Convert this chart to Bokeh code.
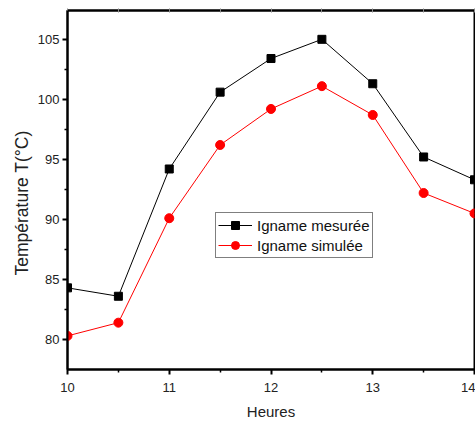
from bokeh.plotting import figure
from bokeh.models import LinearAxis, Legend, LegendItem, FixedTicker, Range1d, Title
from bokeh.embed import file_html
from bokeh.resources import INLINE

hours = [10, 10.5, 11, 11.5, 12, 12.5, 13, 13.5, 14]
measured = [84.3, 83.6, 94.2, 100.6, 103.4, 105.0, 101.3, 95.2, 93.3]
simulated = [80.3, 81.4, 90.1, 96.2, 99.2, 101.1, 98.7, 92.2, 90.5]
x_ticks = [10, 11, 12, 13, 14]
x_minor = [10.5, 11.5, 12.5, 13.5]
y_ticks = [80, 85, 90, 95, 100, 105]
y_minor = [82.5, 87.5, 92.5, 97.5, 102.5]

FONT = "Liberation Sans"

p = figure(width=475, height=422, x_range=Range1d(10, 14), y_range=Range1d(77.5, 107.4),
           output_backend="svg", toolbar_location=None,
           min_border_left=67, min_border_right=1, min_border_top=10, min_border_bottom=53)
p.grid.visible = False
p.outline_line_color = "black"
p.outline_line_width = 2
p.background_fill_color = "white"
p.border_fill_color = "white"

for ax in (p.xaxis[0], p.yaxis[0]):
    ax.axis_line_width = 2
    ax.major_tick_line_width = 2
    ax.minor_tick_line_width = 1.5
    ax.major_tick_out = 5
    ax.major_tick_in = 0
    ax.minor_tick_out = 3
    ax.minor_tick_in = 0
    ax.major_label_text_font = FONT
    ax.major_label_text_font_size = "13px"
    ax.major_label_text_color = "#222222"
    ax.axis_label_text_font = FONT
    ax.axis_label_text_font_style = "normal"
    ax.axis_label_text_color = "#222222"

p.xaxis[0].ticker = FixedTicker(ticks=x_ticks, minor_ticks=x_minor)
p.yaxis[0].ticker = FixedTicker(ticks=y_ticks, minor_ticks=y_minor)
p.xaxis[0].axis_label = "Heures"
p.xaxis[0].axis_label_text_font_size = "15px"
p.xaxis[0].major_label_standoff = 8
p.xaxis[0].axis_label_standoff = 8
p.yaxis[0].major_label_standoff = 3

ylabel = Title(text="Température T(°C)", align="left", offset=94,
               text_font=FONT, text_font_size="17.5px", text_font_style="normal",
               text_color="#222222", standoff=6)
p.add_layout(ylabel, "left")

top = LinearAxis(ticker=FixedTicker(ticks=[], minor_ticks=x_ticks + x_minor))
top.axis_line_width = 2
top.minor_tick_out = 2
top.minor_tick_in = 2
top.minor_tick_line_color = "#888888"
top.minor_tick_line_width = 1
top.major_label_standoff = 0
p.add_layout(top, "above")

l1 = p.line(hours, measured, line_color="black", line_width=1)
s1 = p.scatter(hours, measured, marker="square", size=8, fill_color="black", line_color="black")
l2 = p.line(hours, simulated, line_color="red", line_width=1)
s2 = p.scatter(hours, simulated, marker="circle", size=9, fill_color="red", line_color="red")

legend = Legend(items=[LegendItem(label="Igname mesurée", renderers=[l1, s1]),
                       LegendItem(label="Igname simulée", renderers=[l2, s2])],
                location=(148, 111))
legend.border_line_color = "black"
legend.border_line_width = 1
legend.label_text_font = FONT
legend.label_text_font_size = "15px"
legend.label_text_color = "#111111"
legend.padding = 2
legend.spacing = 0
legend.margin = 0
legend.glyph_width = 34
legend.glyph_height = 20
legend.label_height = 20
legend.label_standoff = 5
legend.background_fill_alpha = 1
p.add_layout(legend, "center")

open("out.html", "w").write(file_html(p, INLINE))
